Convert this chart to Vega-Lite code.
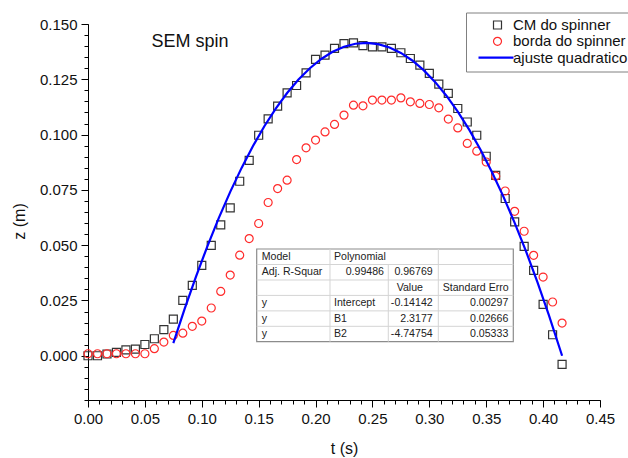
{
 "$schema": "https://vega.github.io/schema/vega-lite/v6.json",
 "width": 512,
 "height": 376,
 "autosize": {"type": "none"},
 "padding": {"left": 88, "top": 24, "right": 28, "bottom": 58},
 "background": "white",
 "config": {
  "view": {"stroke": null},
  "font": "Liberation Sans",
  "axis": {"domainColor": "#000", "tickColor": "#000", "labelColor": "#111", "titleColor": "#111", "grid": false, "labelFontSize": 15, "titleFontSize": 16, "titleFontWeight": "normal", "labelFont": "Liberation Sans", "titleFont": "Liberation Sans", "domainWidth": 1, "tickWidth": 1, "labelOverlap": false, "labelFlush": false},
  "legend": {"labelFont": "Liberation Sans", "labelFontSize": 15, "labelColor": "#111", "symbolSize": 64, "symbolOffset": 19, "labelOffset": 8, "rowPadding": 0.3, "padding": 5, "strokeColor": "#808080", "fillColor": "white", "symbolFillColor": "transparent", "cornerRadius": 0}
 },
 "resolve": {"axis": {"x": "independent", "y": "independent"}},
 "datasets": {
  "pts": [
   {"series":"CM do spinner","t":0,"z":0},
   {"series":"CM do spinner","t":0.00833,"z":0},
   {"series":"CM do spinner","t":0.01667,"z":0.0008},
   {"series":"CM do spinner","t":0.025,"z":0.0015},
   {"series":"CM do spinner","t":0.03333,"z":0.0027},
   {"series":"CM do spinner","t":0.04167,"z":0.003},
   {"series":"CM do spinner","t":0.05,"z":0.0051},
   {"series":"CM do spinner","t":0.05833,"z":0.0077},
   {"series":"CM do spinner","t":0.06667,"z":0.0118},
   {"series":"CM do spinner","t":0.075,"z":0.0166},
   {"series":"CM do spinner","t":0.08333,"z":0.025},
   {"series":"CM do spinner","t":0.09167,"z":0.0318},
   {"series":"CM do spinner","t":0.1,"z":0.0409},
   {"series":"CM do spinner","t":0.10833,"z":0.0499},
   {"series":"CM do spinner","t":0.11667,"z":0.0592},
   {"series":"CM do spinner","t":0.125,"z":0.0669},
   {"series":"CM do spinner","t":0.13333,"z":0.0789},
   {"series":"CM do spinner","t":0.14167,"z":0.0883},
   {"series":"CM do spinner","t":0.15,"z":0.0997},
   {"series":"CM do spinner","t":0.15833,"z":0.1071},
   {"series":"CM do spinner","t":0.16667,"z":0.1129},
   {"series":"CM do spinner","t":0.175,"z":0.1189},
   {"series":"CM do spinner","t":0.18333,"z":0.1222},
   {"series":"CM do spinner","t":0.19167,"z":0.1279},
   {"series":"CM do spinner","t":0.2,"z":0.134},
   {"series":"CM do spinner","t":0.20833,"z":0.1359},
   {"series":"CM do spinner","t":0.21667,"z":0.139},
   {"series":"CM do spinner","t":0.225,"z":0.1411},
   {"series":"CM do spinner","t":0.23333,"z":0.1415},
   {"series":"CM do spinner","t":0.24167,"z":0.1402},
   {"series":"CM do spinner","t":0.25,"z":0.1397},
   {"series":"CM do spinner","t":0.25833,"z":0.1397},
   {"series":"CM do spinner","t":0.26667,"z":0.139},
   {"series":"CM do spinner","t":0.275,"z":0.137},
   {"series":"CM do spinner","t":0.28333,"z":0.1344},
   {"series":"CM do spinner","t":0.29167,"z":0.1314},
   {"series":"CM do spinner","t":0.3,"z":0.1277},
   {"series":"CM do spinner","t":0.30833,"z":0.1228},
   {"series":"CM do spinner","t":0.31667,"z":0.1186},
   {"series":"CM do spinner","t":0.325,"z":0.1118},
   {"series":"CM do spinner","t":0.33333,"z":0.1057},
   {"series":"CM do spinner","t":0.34167,"z":0.0997},
   {"series":"CM do spinner","t":0.35,"z":0.0902},
   {"series":"CM do spinner","t":0.35833,"z":0.0816},
   {"series":"CM do spinner","t":0.36667,"z":0.0711},
   {"series":"CM do spinner","t":0.375,"z":0.0605},
   {"series":"CM do spinner","t":0.38333,"z":0.0495},
   {"series":"CM do spinner","t":0.39167,"z":0.0386},
   {"series":"CM do spinner","t":0.4,"z":0.0232},
   {"series":"CM do spinner","t":0.40833,"z":0.0095},
   {"series":"CM do spinner","t":0.41667,"z":-0.0039},
   {"series":"borda do spinner","t":0,"z":0.0009},
   {"series":"borda do spinner","t":0.00833,"z":0.0009},
   {"series":"borda do spinner","t":0.01667,"z":0.0009},
   {"series":"borda do spinner","t":0.025,"z":0.0009},
   {"series":"borda do spinner","t":0.03333,"z":0.0009},
   {"series":"borda do spinner","t":0.04167,"z":0.0009},
   {"series":"borda do spinner","t":0.05,"z":0.0009},
   {"series":"borda do spinner","t":0.05833,"z":0.0032},
   {"series":"borda do spinner","t":0.06667,"z":0.0062},
   {"series":"borda do spinner","t":0.075,"z":0.0092},
   {"series":"borda do spinner","t":0.08333,"z":0.0102},
   {"series":"borda do spinner","t":0.09167,"z":0.0133},
   {"series":"borda do spinner","t":0.1,"z":0.0157},
   {"series":"borda do spinner","t":0.10833,"z":0.0216},
   {"series":"borda do spinner","t":0.11667,"z":0.0291},
   {"series":"borda do spinner","t":0.125,"z":0.0365},
   {"series":"borda do spinner","t":0.13333,"z":0.0455},
   {"series":"borda do spinner","t":0.14167,"z":0.053},
   {"series":"borda do spinner","t":0.15,"z":0.0598},
   {"series":"borda do spinner","t":0.15833,"z":0.0693},
   {"series":"borda do spinner","t":0.16667,"z":0.0756},
   {"series":"borda do spinner","t":0.175,"z":0.0794},
   {"series":"borda do spinner","t":0.18333,"z":0.0887},
   {"series":"borda do spinner","t":0.19167,"z":0.094},
   {"series":"borda do spinner","t":0.2,"z":0.0975},
   {"series":"borda do spinner","t":0.20833,"z":0.1012},
   {"series":"borda do spinner","t":0.21667,"z":0.1046},
   {"series":"borda do spinner","t":0.225,"z":0.1088},
   {"series":"borda do spinner","t":0.23333,"z":0.1133},
   {"series":"borda do spinner","t":0.24167,"z":0.113},
   {"series":"borda do spinner","t":0.25,"z":0.1156},
   {"series":"borda do spinner","t":0.25833,"z":0.1156},
   {"series":"borda do spinner","t":0.26667,"z":0.1156},
   {"series":"borda do spinner","t":0.275,"z":0.1166},
   {"series":"borda do spinner","t":0.28333,"z":0.1148},
   {"series":"borda do spinner","t":0.29167,"z":0.1141},
   {"series":"borda do spinner","t":0.3,"z":0.1136},
   {"series":"borda do spinner","t":0.30833,"z":0.1121},
   {"series":"borda do spinner","t":0.31667,"z":0.107},
   {"series":"borda do spinner","t":0.325,"z":0.103},
   {"series":"borda do spinner","t":0.33333,"z":0.096},
   {"series":"borda do spinner","t":0.34167,"z":0.0925},
   {"series":"borda do spinner","t":0.35,"z":0.0876},
   {"series":"borda do spinner","t":0.35833,"z":0.0812},
   {"series":"borda do spinner","t":0.36667,"z":0.0745},
   {"series":"borda do spinner","t":0.375,"z":0.0653},
   {"series":"borda do spinner","t":0.38333,"z":0.0563},
   {"series":"borda do spinner","t":0.39167,"z":0.0454},
   {"series":"borda do spinner","t":0.4,"z":0.0356},
   {"series":"borda do spinner","t":0.40833,"z":0.0243},
   {"series":"borda do spinner","t":0.41667,"z":0.0148}
  ],
  "fit": [
   {"series":"ajuste quadratico","t":0.075,"z":0.0057},
   {"series":"ajuste quadratico","t":0.085,"z":0.02128},
   {"series":"ajuste quadratico","t":0.095,"z":0.03592},
   {"series":"ajuste quadratico","t":0.105,"z":0.0496},
   {"series":"ajuste quadratico","t":0.115,"z":0.06233},
   {"series":"ajuste quadratico","t":0.125,"z":0.07411},
   {"series":"ajuste quadratico","t":0.135,"z":0.08495},
   {"series":"ajuste quadratico","t":0.145,"z":0.09483},
   {"series":"ajuste quadratico","t":0.155,"z":0.10376},
   {"series":"ajuste quadratico","t":0.165,"z":0.11175},
   {"series":"ajuste quadratico","t":0.175,"z":0.11879},
   {"series":"ajuste quadratico","t":0.185,"z":0.12487},
   {"series":"ajuste quadratico","t":0.195,"z":0.13001},
   {"series":"ajuste quadratico","t":0.205,"z":0.13419},
   {"series":"ajuste quadratico","t":0.215,"z":0.13743},
   {"series":"ajuste quadratico","t":0.225,"z":0.13972},
   {"series":"ajuste quadratico","t":0.235,"z":0.14106},
   {"series":"ajuste quadratico","t":0.245,"z":0.14145},
   {"series":"ajuste quadratico","t":0.255,"z":0.14089},
   {"series":"ajuste quadratico","t":0.265,"z":0.13938},
   {"series":"ajuste quadratico","t":0.275,"z":0.13692},
   {"series":"ajuste quadratico","t":0.285,"z":0.13351},
   {"series":"ajuste quadratico","t":0.295,"z":0.12915},
   {"series":"ajuste quadratico","t":0.305,"z":0.12384},
   {"series":"ajuste quadratico","t":0.315,"z":0.11758},
   {"series":"ajuste quadratico","t":0.325,"z":0.11037},
   {"series":"ajuste quadratico","t":0.335,"z":0.10222},
   {"series":"ajuste quadratico","t":0.345,"z":0.09311},
   {"series":"ajuste quadratico","t":0.355,"z":0.08306},
   {"series":"ajuste quadratico","t":0.365,"z":0.07205},
   {"series":"ajuste quadratico","t":0.375,"z":0.0601},
   {"series":"ajuste quadratico","t":0.385,"z":0.04719},
   {"series":"ajuste quadratico","t":0.395,"z":0.03334},
   {"series":"ajuste quadratico","t":0.405,"z":0.01853},
   {"series":"ajuste quadratico","t":0.4167,"z":0}
  ],
  "tableBox": [{"x1":0.14827,"x2":0.3738,"y1":0.00636,"y2":0.04827}],
  "tableLines": [
   {"x1":0.14827,"x2":0.3738,"y1":0.04126,"y2":0.04126},
   {"x1":0.14827,"x2":0.3738,"y1":0.03426,"y2":0.03426},
   {"x1":0.14827,"x2":0.3738,"y1":0.02729,"y2":0.02729},
   {"x1":0.14827,"x2":0.3738,"y1":0.02029,"y2":0.02029},
   {"x1":0.14827,"x2":0.3738,"y1":0.01332,"y2":0.01332},
   {"x1":0.21269,"x2":0.21269,"y1":0.00636,"y2":0.04827},
   {"x1":0.26393,"x2":0.26393,"y1":0.00636,"y2":0.04126},
   {"x1":0.30788,"x2":0.30788,"y1":0.00636,"y2":0.04827}
  ],
  "tableLeft": [
   {"tx":0.15266,"tz":0.04477,"label":"Model"},
   {"tx":0.2162,"tz":0.04477,"label":"Polynomial"},
   {"tx":0.15266,"tz":0.03776,"label":"Adj. R-Squar"},
   {"tx":0.27131,"tz":0.03078,"label":"Value"},
   {"tx":0.31174,"tz":0.03078,"label":"Standard Erro"},
   {"tx":0.15266,"tz":0.02379,"label":"y"},
   {"tx":0.2162,"tz":0.02379,"label":"Intercept"},
   {"tx":0.15266,"tz":0.01681,"label":"y"},
   {"tx":0.2162,"tz":0.01681,"label":"B1"},
   {"tx":0.15266,"tz":0.00984,"label":"y"},
   {"tx":0.2162,"tz":0.00984,"label":"B2"}
  ],
  "tableRight": [
   {"tx":0.26015,"tz":0.03776,"label":"0.99486"},
   {"tx":0.30295,"tz":0.03776,"label":"0.96769"},
   {"tx":0.30295,"tz":0.02379,"label":"-0.14142"},
   {"tx":0.3694,"tz":0.02379,"label":"0.00297"},
   {"tx":0.30295,"tz":0.01681,"label":"2.3177"},
   {"tx":0.3694,"tz":0.01681,"label":"0.02666"},
   {"tx":0.30295,"tz":0.00984,"label":"-4.74754"},
   {"tx":0.3694,"tz":0.00984,"label":"0.05333"}
  ],
  "title": [{"tx":0.0558,"tz":0.142,"label":"SEM spin"}]
 },
 "layer": [
  {
   "data": {"name": "pts"},
   "mark": {"type": "point", "filled": false, "size": 64, "opacity": 1},
   "encoding": {
    "x": {"field": "t", "type": "quantitative",
     "scale": {"domain": [0, 0.45], "nice": false, "zero": false},
     "axis": {"title": "t (s)", "orient": "bottom",
      "values": [0,0.05,0.1,0.15,0.2,0.25,0.3,0.35,0.4,0.45],
      "format": ".2f", "tickSize": 7,
      "labelPadding": 4, "titleBaseline": "middle", "titleY": 48}},
    "y": {"field": "z", "type": "quantitative",
     "scale": {"domain": [-0.02, 0.15], "nice": false, "zero": false},
     "axis": {"title": "z (m)", "orient": "left",
      "values": [0,0.025,0.05,0.075,0.1,0.125,0.15],
      "format": ".3f", "tickSize": 7,
      "labelPadding": 4, "titleBaseline": "middle", "titleX": -69, "titleY": 197}},
    "shape": {"field": "series", "type": "nominal",
     "scale": {"domain": ["CM do spinner", "borda do spinner", "ajuste quadratico"], "range": ["square", "circle", "M-4.75,0H4"]},
     "legend": {"title": null, "orient": "none", "legendX": 378, "legendY": -11.5}},
    "stroke": {"field": "series", "type": "nominal",
     "scale": {"domain": ["CM do spinner", "borda do spinner", "ajuste quadratico"], "range": ["#333333", "#ff2a2a", "#0000ff"]},
     "legend": {"title": null, "orient": "none", "legendX": 378, "legendY": -11.5}},
    "strokeWidth": {"field": "series", "type": "nominal",
     "scale": {"type": "ordinal", "domain": ["CM do spinner", "borda do spinner", "ajuste quadratico"], "range": [1.2, 1.2, 2.2]},
     "legend": {"title": null, "orient": "none", "legendX": 378, "legendY": -11.5}}
   }
  },
  {
   "data": {"name": "fit"},
   "mark": {"type": "line", "strokeWidth": 2.2},
   "encoding": {
    "x": {"field": "t", "type": "quantitative",
     "axis": {"title": null, "orient": "bottom", "labels": false, "tickSize": 4,
      "values": [0.01,0.02,0.03,0.04,0.06,0.07,0.08,0.09,0.11,0.12,0.13,0.14,0.16,0.17,0.18,0.19,0.21,0.22,0.23,0.24,0.26,0.27,0.28,0.29,0.31,0.32,0.33,0.34,0.36,0.37,0.38,0.39,0.41,0.42,0.43,0.44]}},
    "y": {"field": "z", "type": "quantitative",
     "axis": {"title": null, "orient": "left", "labels": false, "tickSize": 4,
      "values": [-0.02,-0.015,-0.01,-0.005,0.005,0.01,0.015,0.02,0.03,0.035,0.04,0.045,0.055,0.06,0.065,0.07,0.08,0.085,0.09,0.095,0.105,0.11,0.115,0.12,0.13,0.135,0.14,0.145]}},
    "stroke": {"field": "series", "type": "nominal", "legend": null}
   }
  },
  {
   "data": {"name": "tableBox"},
   "mark": {"type": "rect", "fill": "white", "stroke": "#8c8c8c", "strokeWidth": 1.2},
   "encoding": {
    "x": {"field": "x1", "type": "quantitative", "axis": null},
    "x2": {"field": "x2"},
    "y": {"field": "y1", "type": "quantitative", "axis": null},
    "y2": {"field": "y2"}
   }
  },
  {
   "data": {"name": "tableLines"},
   "mark": {"type": "rule", "color": "#d4d4d4", "strokeWidth": 1},
   "encoding": {
    "x": {"field": "x1", "type": "quantitative", "axis": null},
    "x2": {"field": "x2"},
    "y": {"field": "y1", "type": "quantitative", "axis": null},
    "y2": {"field": "y2"}
   }
  },
  {
   "data": {"name": "tableLeft"},
   "mark": {"type": "text", "align": "left", "baseline": "middle", "fontSize": 10.6, "color": "#222", "font": "Liberation Sans"},
   "encoding": {
    "x": {"field": "tx", "type": "quantitative", "axis": null},
    "y": {"field": "tz", "type": "quantitative", "axis": null},
    "text": {"field": "label"}
   }
  },
  {
   "data": {"name": "tableRight"},
   "mark": {"type": "text", "align": "right", "baseline": "middle", "fontSize": 10.6, "color": "#222", "font": "Liberation Sans"},
   "encoding": {
    "x": {"field": "tx", "type": "quantitative", "axis": null},
    "y": {"field": "tz", "type": "quantitative", "axis": null},
    "text": {"field": "label"}
   }
  },
  {
   "data": {"name": "title"},
   "mark": {"type": "text", "align": "left", "baseline": "middle", "fontSize": 18, "color": "#111", "font": "Liberation Sans"},
   "encoding": {
    "x": {"field": "tx", "type": "quantitative", "axis": null},
    "y": {"field": "tz", "type": "quantitative", "axis": null},
    "text": {"field": "label"}
   }
  }
 ]
}
